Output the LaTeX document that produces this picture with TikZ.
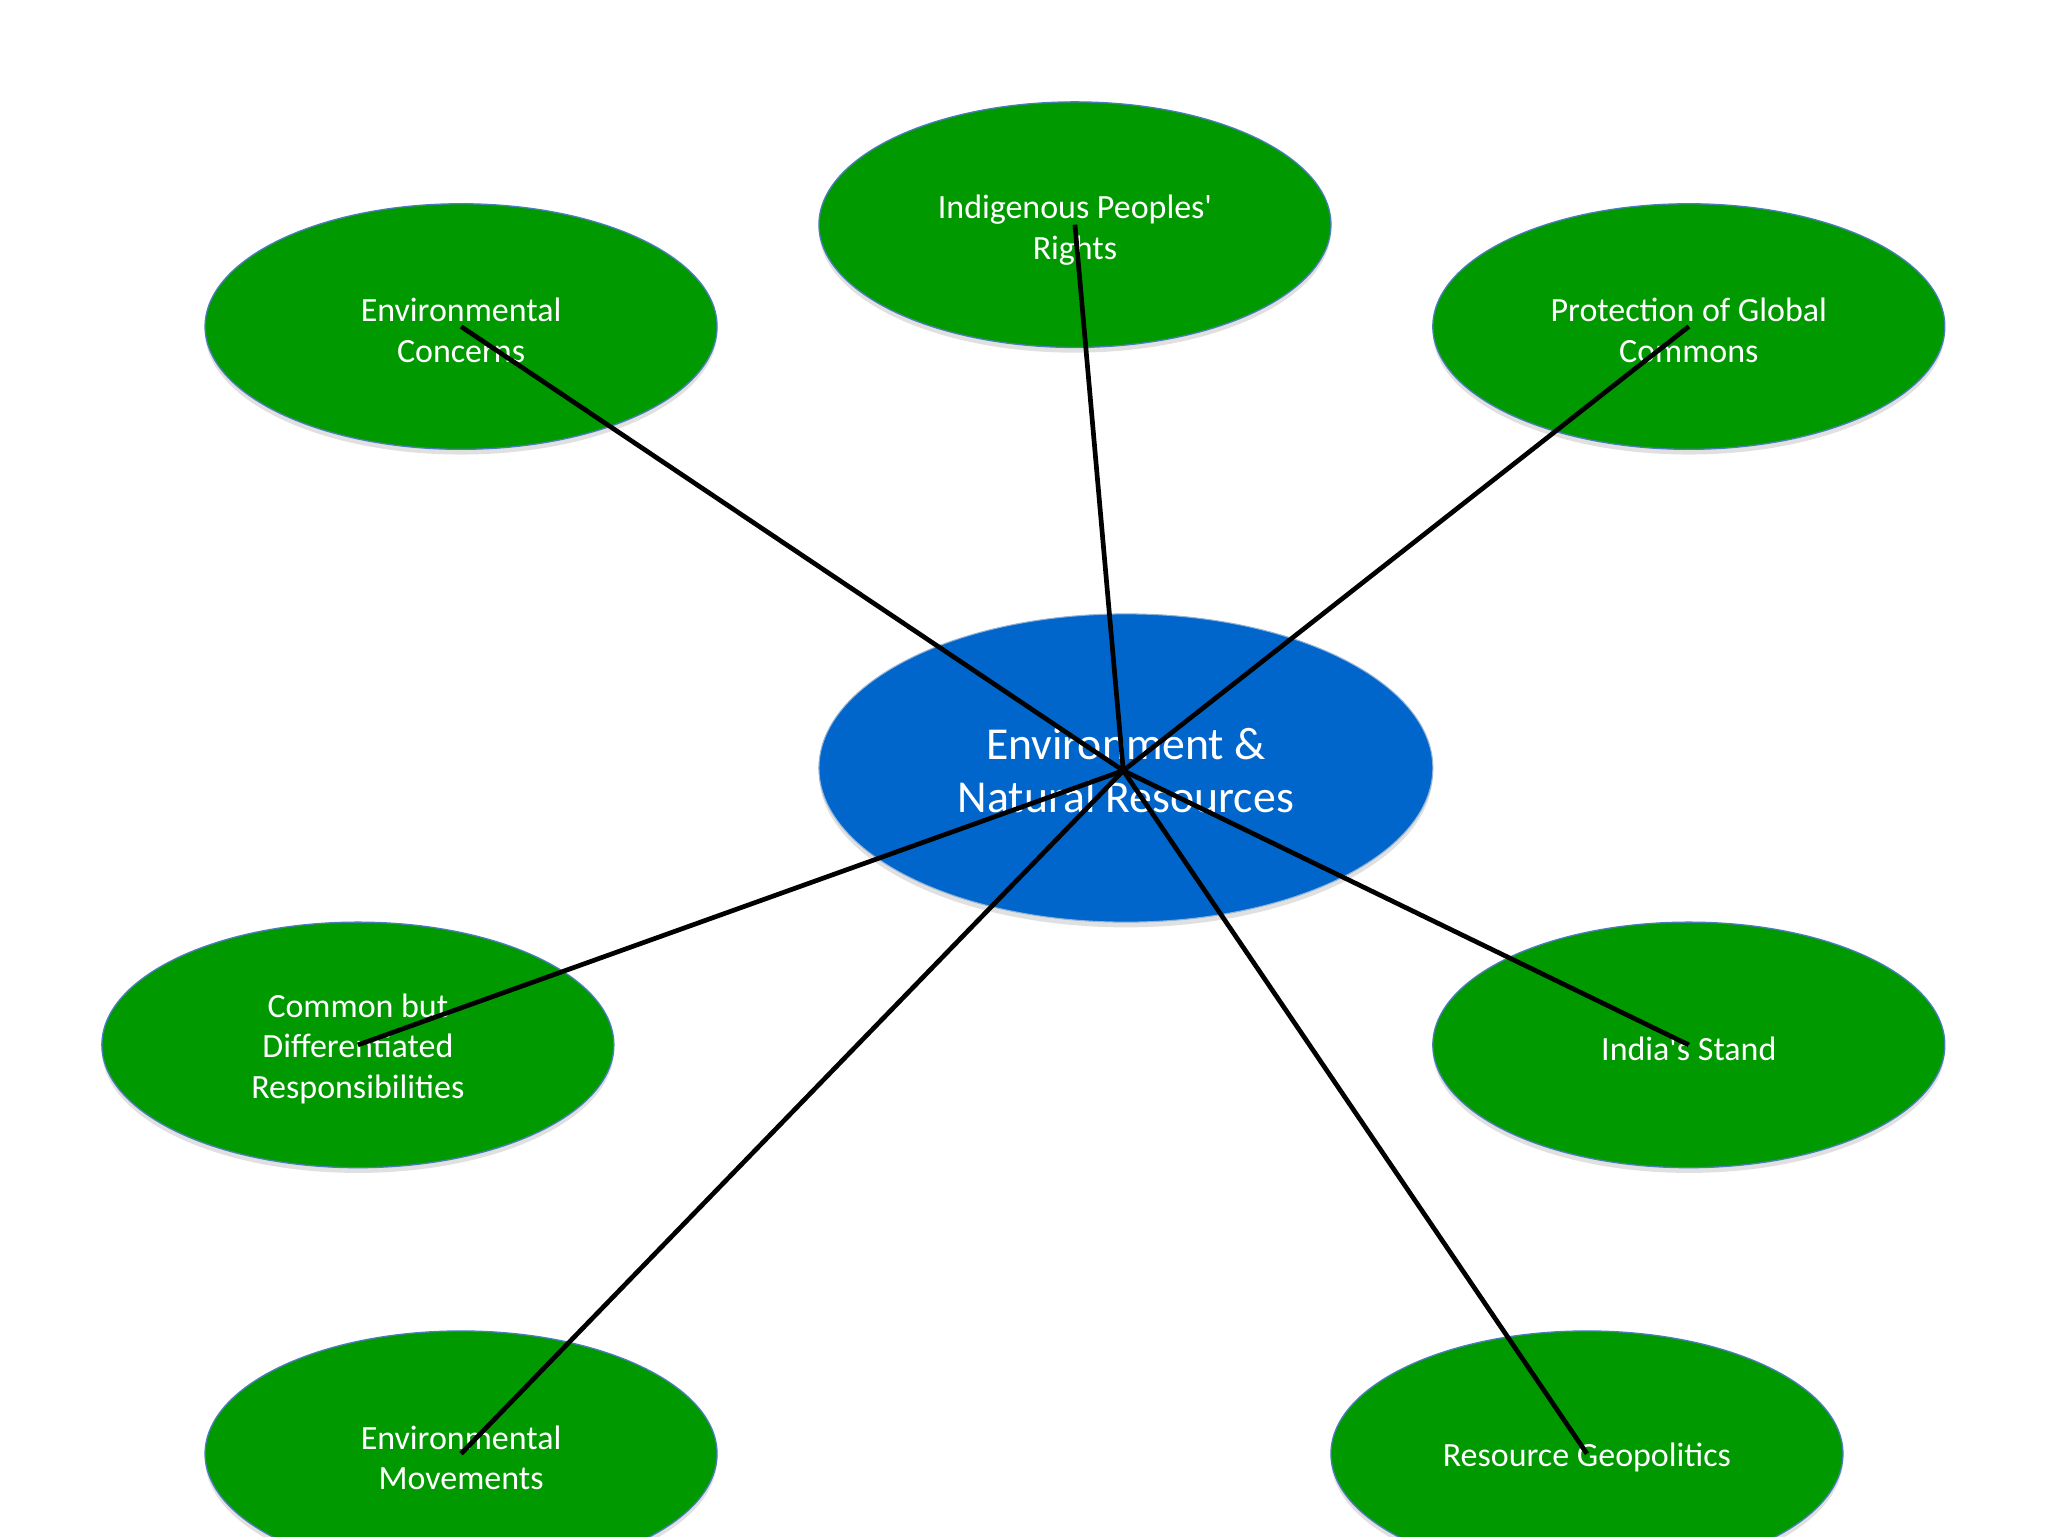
\documentclass[tikz,border=0pt]{standalone}
\usepackage{fontspec}
\setmainfont{Carlito}
\usetikzlibrary{shapes.geometric,shadows}
\definecolor{leafgreen}{HTML}{009900}
\definecolor{hubblue}{HTML}{0066CC}
\definecolor{rimblue}{HTML}{4A7EBB}
\tikzset{
  softshadow/.style={drop shadow={opacity=0.12, shadow xshift=0pt, shadow yshift=-4pt, fill=black}},
  topic/.style={ellipse, fill=leafgreen, draw=rimblue, line width=1pt,
    minimum width=392pt, minimum height=188pt, inner sep=0pt, softshadow},
  hub/.style={ellipse, fill=hubblue, draw=rimblue!60, line width=0.8pt,
    minimum width=470pt, minimum height=236pt, inner sep=0pt, softshadow},
  label/.style={text=white, align=center, font=\fontsize{26}{31}\selectfont},
  biglabel/.style={text=white, align=center, font=\fontsize{35}{41}\selectfont},
  spoke/.style={line width=3.6pt, black}
}
\begin{document}
\begin{tikzpicture}[x=1pt,y=-1pt]
\useasboundingbox (0,0) rectangle (1568,1176);
\clip (0,0) rectangle (1568,1176);
\node[hub] (c) at (862,588) {};
\node[topic] (ip) at (823,172) {};
\node[topic] (ec) at (353,250) {};
\node[topic] (pg) at (1293,250) {};
\node[topic] (cb) at (274,800) {};
\node[topic] (is) at (1293,800) {};
\node[topic] (em) at (353,1113) {};
\node[topic] (rg) at (1215,1113) {};
\node[biglabel] (ct) at (862,590) {Environment \&\\Natural Resources};
\node[label] (ipt) at (823,176) {Indigenous Peoples\textquotesingle\\Rights};
\node[label] (ect) at (353,253) {Environmental\\Concerns};
\node[label] (pgt) at (1293,253) {Protection of Global\\Commons};
\node[label] (cbt) at (274,803) {Common but\\Differentiated\\Responsibilities};
\node[label] (ist) at (1293,803) {India\textquotesingle s Stand};
\node[label] (emt) at (353,1116) {Environmental\\Movements};
\node[label] (rgt) at (1215,1116) {Resource Geopolitics};
\coordinate (hc) at (860,590);
\draw[spoke] (hc) -- (ec.center);
\draw[spoke] (hc) -- (ip.center);
\draw[spoke] (hc) -- (pg.center);
\draw[spoke] (hc) -- (cb.center);
\draw[spoke] (hc) -- (is.center);
\draw[spoke] (hc) -- (em.center);
\draw[spoke] (hc) -- (rg.center);
\end{tikzpicture}
\end{document}
